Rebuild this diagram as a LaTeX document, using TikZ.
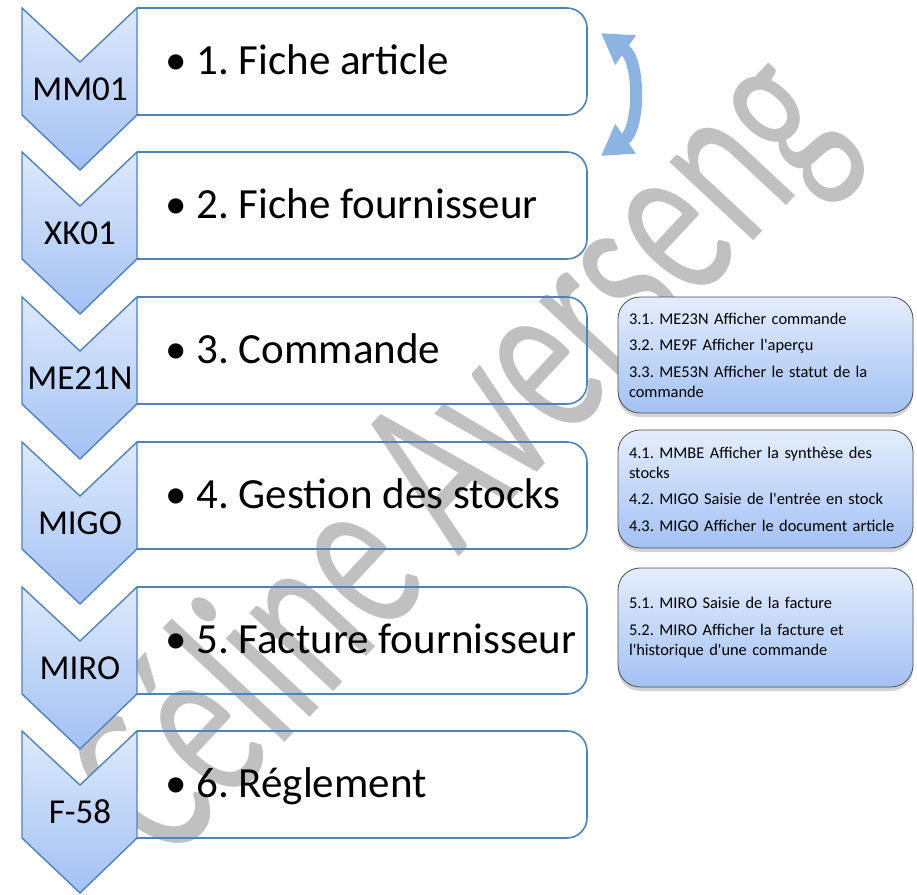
\documentclass[tikz,border=0pt]{standalone}
\usepackage{fontspec}
\setmainfont{Carlito}
\usetikzlibrary{arrows.meta,shadows}
\definecolor{SAPblue}{HTML}{4F81BD}
\definecolor{SAPlight}{HTML}{DDE9FC}
\definecolor{SAPmid}{HTML}{A3C1F4}
\definecolor{SAParrow}{HTML}{8DB3E2}
\definecolor{SAPmark}{HTML}{C0C0C0}
\frenchspacing

\begin{document}
\begin{tikzpicture}[x=0.5pt, y=-0.5pt,
    chevron/.style={draw=SAPblue, line width=0.7pt, top color=SAPlight, bottom color=SAPmid},
    stepframe/.style={draw=SAPblue, line width=0.8pt, rounded corners=10pt},
    codetext/.style={anchor=base, inner sep=0pt, font=\fontsize{17.5}{20}\selectfont},
    steptext/.style={anchor=base west, inner sep=0pt, font=\fontsize{21.5}{24}\selectfont},
    detailbox/.style={draw=black!70, line width=0.4pt, rounded corners=11pt,
        top color=SAPlight!80!white, bottom color=SAPmid,
        drop shadow={opacity=0.35, shadow xshift=0pt, shadow yshift=-2pt},
        text width=136.5pt, inner xsep=5.5pt, inner ysep=0pt, align=left,
        font=\fontsize{8.2}{10}\selectfont,
        execute at begin node={\setlength{\parskip}{3.2pt}\setlength{\parindent}{0pt}%
            \hyphenpenalty=10000\exhyphenpenalty=10000}}]
    \useasboundingbox (0,0) rectangle (917,895);

    % watermark, behind everything
    \node[SAPmark, anchor=base, rotate=47, yscale=1.55, inner sep=0pt, font=\fontsize{77.5}{80}\selectfont]
        (mark) at (510,502) {Céline Averseng};

    % chevrons and steps
    \foreach \t/\code/\label [count=\i] in {8/MM01/1. Fiche article, 152/XK01/2. Fiche fournisseur,
        297/ME21N/3. Commande, 442/MIGO/4. Gestion des stocks, 587/MIRO/5. Facture fournisseur,
        731/F-58/6. Réglement}{
        \draw[chevron] (22,\t) -- (80,\t+54) -- (137,\t) -- (137,\t+107) -- (80,\t+162) -- (22,\t+107) -- cycle;
        \draw[stepframe] (137,\t) -- (587,\t) -- (587,\t+107) -- (137,\t+107);
        \node[codetext] (code\i) at (80,\t+92) {\code};
        \node[steptext] (step\i) at (165,\t+66) {\makebox[15.5pt][l]{•}\label};
    }

    % swap arrow between 1 and 2
    \coordinate (swaptop) at (601,33);
    \coordinate (swapbot) at (601,156);
    \draw[SAParrow, line width=6pt, {Triangle[width=17pt, length=15pt]}-{Triangle[width=17pt, length=15pt]}]
        (swaptop) to[bend left=55] (swapbot);

    % transaction details
    \node[detailbox, minimum height=58pt] (detail3) at (765.5,355) {3.1. ME23N Afficher commande\par
        3.2. ME9F Afficher l\textquotesingle aperçu\par 3.3. ME53N Afficher le statut de la commande};
    \node[detailbox, minimum height=59pt] (detail4) at (765.5,489) {4.1. MMBE Afficher la synthèse des stocks\par
        4.2. MIGO Saisie de l\textquotesingle entrée en stock\par 4.3. MIGO Afficher le document article};
    \node[detailbox, minimum height=59.5pt] (detail5) at (765.5,627.5) {5.1. MIRO Saisie de la facture\par
        5.2. MIRO Afficher la facture et l\textquotesingle historique d\textquotesingle une commande};
\end{tikzpicture}
\end{document}
